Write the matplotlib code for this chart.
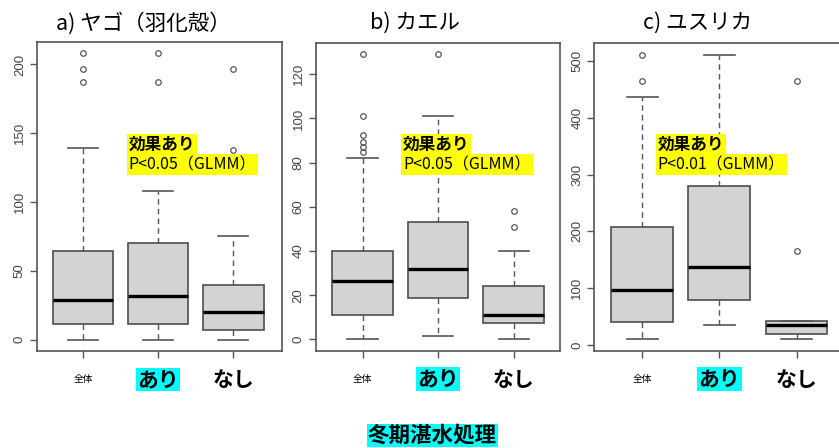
import matplotlib
matplotlib.use('Agg')
from matplotlib import pyplot as plt

plt.rcParams['font.family'] = ['Noto Sans CJK JP', 'DejaVu Sans']

groups = ['全体', 'あり', 'なし']

# a) ヤゴ（羽化殻）: 下ひげ, 第1四分位, 中央値, 第3四分位, 上ひげ, 外れ値
yago_low = [0, 0, 0]
yago_q1 = [11, 11.5, 7]
yago_med = [28.5, 32, 20]
yago_q3 = [64.5, 70, 39.5]
yago_high = [139, 108, 75]
yago_out = [[187, 197, 208], [187, 208], [138, 197]]
yago_ticks = [0, 50, 100, 150, 200]

# b) カエル
kaeru_low = [0, 1.5, 0]
kaeru_q1 = [11, 18.5, 7.5]
kaeru_med = [26.5, 32, 11]
kaeru_q3 = [40, 53, 24]
kaeru_high = [82, 101, 40]
kaeru_out = [[85, 87, 89.5, 92.5, 101, 129], [129], [51, 58]]
kaeru_ticks = [0, 20, 40, 60, 80, 100, 120]

# c) ユスリカ
yusurika_low = [10, 36, 10]
yusurika_q1 = [41, 80, 20]
yusurika_med = [97, 138, 36]
yusurika_q3 = [208, 280, 43]
yusurika_high = [436, 511, 43]
yusurika_out = [[464, 511], [], [165, 464]]
yusurika_ticks = [0, 100, 200, 300, 400, 500]

GRAY = '#555555'


def draw_panel(ax, low, q1, med, q3, high, out, ticks, xlim):
    stats = []
    for i in range(len(groups)):
        stats.append({'whislo': low[i], 'q1': q1[i], 'med': med[i],
                      'q3': q3[i], 'whishi': high[i], 'fliers': out[i]})

    ax.bxp(stats, positions=[1, 2, 3], widths=0.8, capwidths=0.4,
           patch_artist=True, showfliers=True,
           boxprops=dict(facecolor='#d3d3d3', edgecolor='#4d4d4d', linewidth=1.2),
           medianprops=dict(color='black', linewidth=2.4, solid_capstyle='butt'),
           whiskerprops=dict(color=GRAY, linestyle=(0, (4, 3)), linewidth=1),
           capprops=dict(color=GRAY, linewidth=1.2),
           flierprops=dict(marker='o', markersize=4, markerfacecolor='none',
                           markeredgecolor=GRAY, markeredgewidth=0.9))

    # Rのboxplotと同じく範囲を4%広げる
    vals = low + high + [v for o in out for v in o]
    lo, hi = min(vals), max(vals)
    ext = (hi - lo) * 0.04
    ax.set_ylim(lo - ext, hi + ext)
    ax.set_xlim(*xlim)

    for s in ax.spines.values():
        s.set_color(GRAY)
        s.set_linewidth(1.2)

    ax.set_yticks(ticks)
    ax.tick_params(axis='y', labelrotation=90, length=5, width=1, pad=3,
                   labelsize=9.5, labelcolor='#444444', color=GRAY,
                   labelfontfamily='Liberation Sans')
    for lab in ax.get_yticklabels():
        lab.set_verticalalignment('center')

    ax.set_xticks([1, 2, 3], groups)
    ax.tick_params(axis='x', length=5, width=1, pad=15.5, color=GRAY)
    labs = ax.get_xticklabels()
    for lab in labs:
        lab.set_verticalalignment('center')
    labs[0].set_fontsize(7)
    labs[1].set_fontsize(15)
    labs[1].set_fontweight('bold')
    labs[1].set_bbox(dict(facecolor='#00ffff', edgecolor='none', pad=1))
    labs[2].set_fontsize(15)
    labs[2].set_fontweight('bold')


fig = plt.figure(figsize=(8.39, 4.48), dpi=100)

ax1 = fig.add_axes([0.0441, 0.2165, 0.2915, 0.6897])
ax2 = fig.add_axes([0.3763, 0.2172, 0.2908, 0.6868])
ax3 = fig.add_axes([0.7084, 0.2172, 0.2925, 0.6861])

draw_panel(ax1, yago_low, yago_q1, yago_med, yago_q3, yago_high, yago_out,
           yago_ticks, (0.39, 3.64))
draw_panel(ax2, kaeru_low, kaeru_q1, kaeru_med, kaeru_q3, kaeru_high, kaeru_out,
           kaeru_ticks, (0.38, 3.61))
draw_panel(ax3, yusurika_low, yusurika_q1, yusurika_med, yusurika_q3, yusurika_high,
           yusurika_out, yusurika_ticks, (0.38, 3.56))

# タイトル
fig.text(0.171, 0.9487, 'a) ヤゴ（羽化殻）', ha='center', va='center', fontsize=15.5)
fig.text(0.4946, 0.9487, 'b) カエル', ha='center', va='center', fontsize=15.5)
fig.text(0.832, 0.9487, 'c) ユスリカ', ha='center', va='center', fontsize=15.5)

# 検定結果
notes = [(0.1535, 'P<0.05（GLMM）'), (0.4803, 'P<0.05（GLMM）'), (0.784, 'P<0.01（GLMM）')]
for x, p in notes:
    fig.text(x, 0.6964, '効果あり', ha='left', va='top', fontsize=12, fontweight='bold',
             bbox=dict(facecolor='#ffff00', edgecolor='none', pad=1.5))
    fig.text(x, 0.6518, p, ha='left', va='top', fontsize=11.5,
             bbox=dict(facecolor='#ffff00', edgecolor='none', pad=1.5))

fig.text(0.5155, 0.028, '冬期湛水処理', ha='center', va='center', fontsize=15.5,
         fontweight='bold', bbox=dict(facecolor='#00ffff', edgecolor='none', pad=1))

plt.savefig('out.png', dpi=100)
